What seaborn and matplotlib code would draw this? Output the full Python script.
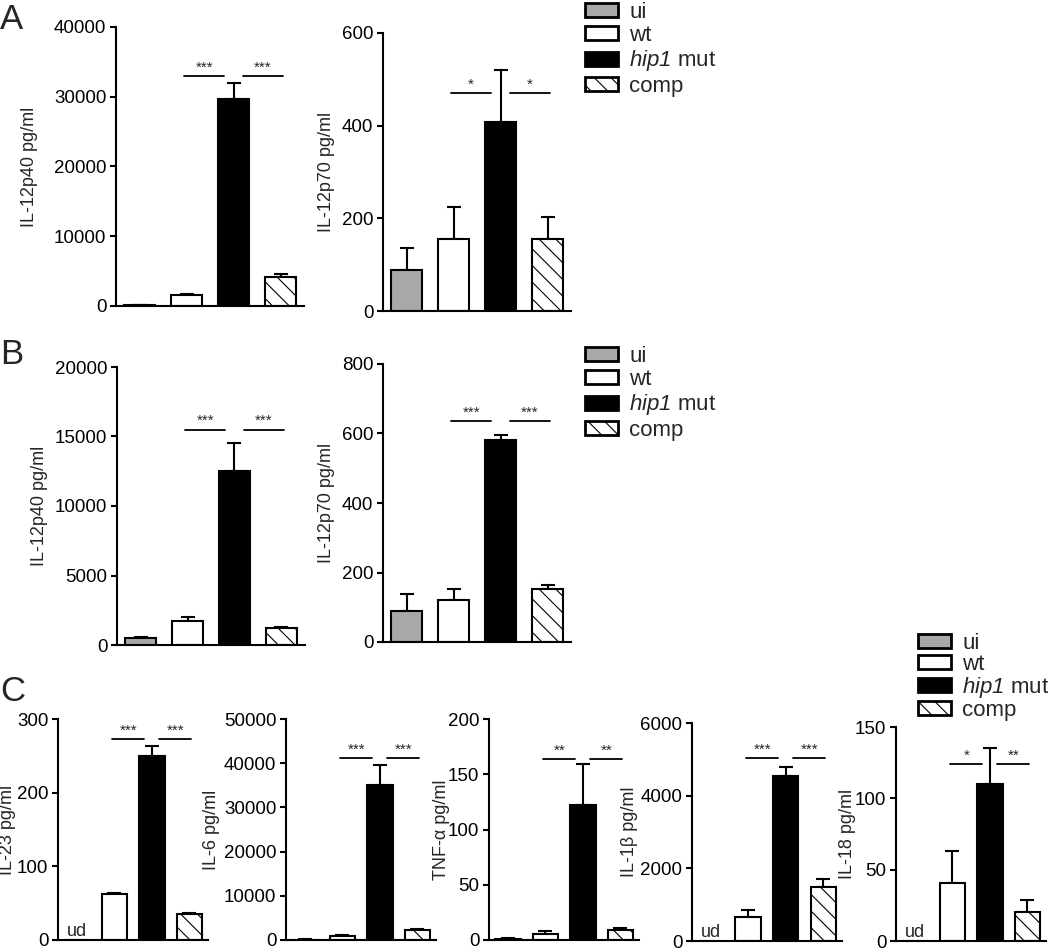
import numpy as np
import pandas as pd
import matplotlib
matplotlib.use('Agg')
import matplotlib.pyplot as plt
import seaborn as sns
from matplotlib.patches import Patch

sns.set_theme(style='ticks')
plt.rcParams['font.family'] = ['Liberation Sans', 'DejaVu Sans']
plt.rcParams['mathtext.fontset'] = 'custom'
plt.rcParams['mathtext.it'] = 'Liberation Sans:italic'
plt.rcParams['mathtext.rm'] = 'Liberation Sans:italic'
plt.rcParams['hatch.linewidth'] = 0.8

# --- data ---
groups = ['ui', 'wt', 'hip1 mut', 'comp']
legend_labels = ['ui', 'wt', r'$\mathrm{hip1}$ mut', 'comp']
colors = ['#a8a8a8', 'white', 'black', 'white']

a_p40 = [100, 1600, 29700, 4100]
a_p40_err = [80, 150, 2300, 450]
a_p70 = [88, 155, 408, 155]
a_p70_err = [49, 70, 112, 48]

b_p40 = [500, 1750, 12500, 1200]
b_p40_err = [40, 250, 2000, 120]
b_p70 = [88, 120, 580, 152]
b_p70_err = [49, 32, 15, 11]

c_il23 = [0, 62, 250, 35]
c_il23_err = [0, 2, 13, 1]
c_il6 = [100, 1000, 35000, 2200]
c_il6_err = [50, 200, 4700, 300]
c_tnf = [1, 5, 122, 9]
c_tnf_err = [1, 3, 37, 2]
c_il1b = [0, 650, 4550, 1480]
c_il1b_err = [0, 200, 250, 220]
c_il18 = [0, 41, 110, 20]
c_il18_err = [0, 22, 25, 9]

# significance: bracket level and stars (wt vs hip1, hip1 vs comp)
sig_levels = {'A1': 33000, 'A2': 470, 'B1': 15500, 'B2': 636,
              'C1': 273, 'C2': 41250, 'C3': 164, 'C4': 5036, 'C5': 124}
sig_stars = {'A1': ('***', '***'), 'A2': ('*', '*'), 'B1': ('***', '***'),
             'B2': ('***', '***'), 'C1': ('***', '***'), 'C2': ('***', '***'),
             'C3': ('**', '**'), 'C4': ('***', '***'), 'C5': ('*', '**')}

W, H = 1050, 952
fig = plt.figure(figsize=(W / 100, H / 100), dpi=100)


def px_axes(left, top, right, bottom):
    return fig.add_axes([left / W, 1 - bottom / H, (right - left) / W, (bottom - top) / H])


def draw_panel(ax, key, vals, errs, ticks, ylabel, label_px, ud=False):
    df = pd.DataFrame({'group': groups, 'value': vals})
    sns.barplot(data=df, x='group', y='value', hue='group', order=groups, hue_order=groups,
                palette=dict(zip(groups, colors)), width=0.68, edgecolor='black',
                linewidth=1.5, errorbar=None, legend=False, ax=ax, zorder=2)
    ax.patches[3].set_hatch('\\\\')
    errs = np.array(errs, dtype=float)
    idx = np.where(errs > 0)[0]
    ax.errorbar(idx, np.array(vals, dtype=float)[idx], yerr=[np.zeros(len(idx)), errs[idx]],
                fmt='none', ecolor='black', elinewidth=1.5, capsize=5, capthick=1.5, zorder=1)
    y = sig_levels[key]
    s1, s2 = sig_stars[key]
    for (x0, x1), s in zip([(0.95, 1.8), (2.2, 3.05)], [s1, s2]):
        ax.plot([x0, x1], [y, y], color='black', lw=1.3, clip_on=False)
        ax.annotate(s, ((x0 + x1) / 2, y), xytext=(0, 1), textcoords='offset points',
                    ha='center', va='bottom', fontsize=11)
    if ud:
        ax.text(0, 0, 'ud', ha='center', va='bottom', fontsize=13,
                transform=ax.transData)
    ax.set_xlim(-0.5, 3.5)
    ax.set_ylim(0, ticks[-1])
    ax.set_yticks(ticks)
    ax.set_yticklabels([str(t) for t in ticks])
    ax.set_xticks([])
    ax.set_xlabel('')
    ax.set_ylabel(ylabel, fontsize=13)
    pos = ax.get_position()
    ax.yaxis.set_label_coords((label_px / W - pos.x0) / pos.width, 0.5)
    sns.despine(ax=ax)
    for sp in ['left', 'bottom']:
        ax.spines[sp].set_linewidth(1.5)
        ax.spines[sp].set_color('black')
    ax.tick_params(axis='y', length=4, width=1.5, labelsize=13.5, pad=3, colors='black')


axA1 = px_axes(116, 27, 304, 306)
draw_panel(axA1, 'A1', a_p40, a_p40_err, [0, 10000, 20000, 30000, 40000], 'IL-12p40 pg/ml', 38)
axA2 = px_axes(383, 33, 571, 311)
draw_panel(axA2, 'A2', a_p70, a_p70_err, [0, 200, 400, 600], 'IL-12p70 pg/ml', 335)

axB1 = px_axes(117, 367, 305, 645)
draw_panel(axB1, 'B1', b_p40, b_p40_err, [0, 5000, 10000, 15000, 20000], 'IL-12p40 pg/ml', 48)
axB2 = px_axes(383, 364, 571, 642)
draw_panel(axB2, 'B2', b_p70, b_p70_err, [0, 200, 400, 600, 800], 'IL-12p70 pg/ml', 335)

axC1 = px_axes(58, 719, 208, 940)
draw_panel(axC1, 'C1', c_il23, c_il23_err, [0, 100, 200, 300], 'IL-23 pg/ml', 16, ud=True)
axC2 = px_axes(286, 719, 436, 940)
draw_panel(axC2, 'C2', c_il6, c_il6_err, [0, 10000, 20000, 30000, 40000, 50000], 'IL-6 pg/ml', 220)
axC3 = px_axes(489, 719, 639, 940)
draw_panel(axC3, 'C3', c_tnf, c_tnf_err, [0, 50, 100, 150, 200], 'TNF-α pg/ml', 450)
axC4 = px_axes(692, 723, 842, 941)
draw_panel(axC4, 'C4', c_il1b, c_il1b_err, [0, 2000, 4000, 6000], 'IL-1β pg/ml', 638, ud=True)
axC5 = px_axes(896, 727, 1046, 941)
draw_panel(axC5, 'C5', c_il18, c_il18_err, [0, 50, 100, 150], 'IL-18 pg/ml', 856, ud=True)

# legends
hatches = [None, None, None, '\\\\']


def make_handles():
    return [Patch(facecolor=c, edgecolor='black', linewidth=2, hatch=h)
            for c, h in zip(colors, hatches)]


for anchor, lsp in [((585, 2), 0.1), ((585, 346), 0.1), ((918, 633), 0.0)]:
    fig.legend(make_handles(), legend_labels, loc='upper left',
               bbox_to_anchor=(anchor[0] / W, 1 - anchor[1] / H),
               frameon=False, fontsize=16, handlelength=1.5, handleheight=0.6,
               labelspacing=lsp, handletextpad=0.5, borderpad=0, borderaxespad=0)

# panel letters
for letter, ypx in [('A', 3), ('B', 338), ('C', 675)]:
    fig.text(0, 1 - ypx / H, letter, fontsize=25, ha='left', va='top')

fig.savefig('out.png', dpi=100)
